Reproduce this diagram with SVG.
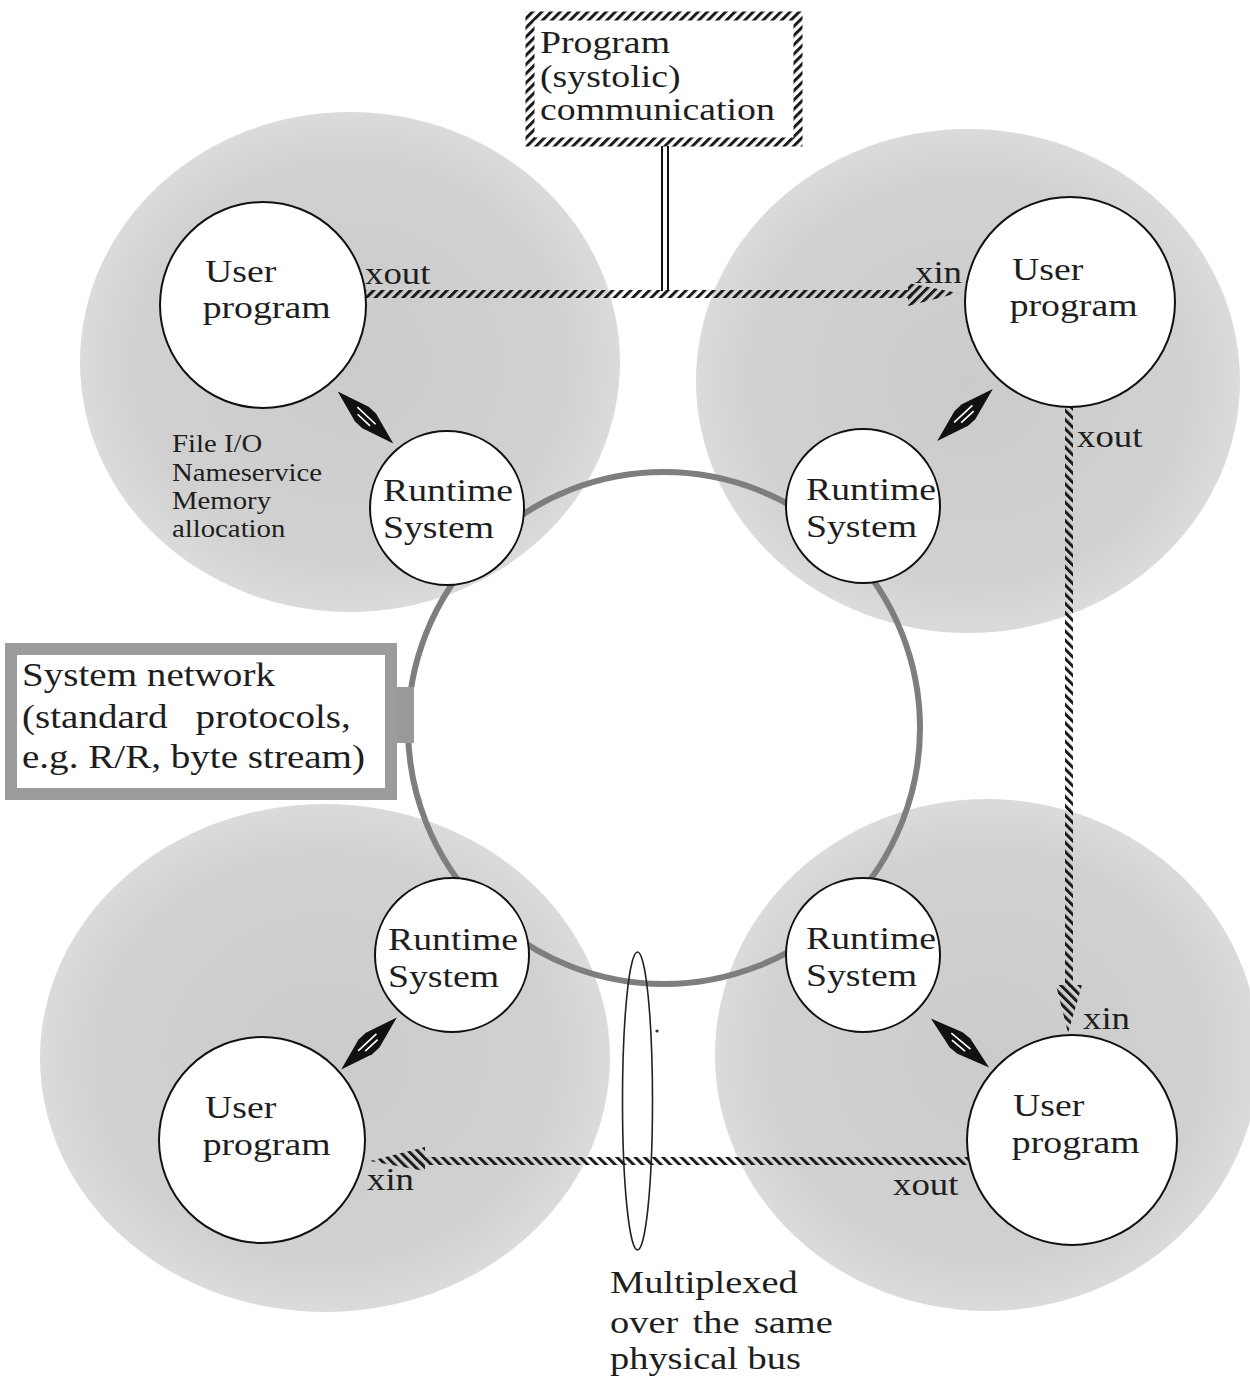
<svg xmlns="http://www.w3.org/2000/svg" xmlns:xlink="http://www.w3.org/1999/xlink" width="1250" height="1382" viewBox="0 0 1250 1382">
<style>
.t{font-family:"Liberation Serif","Times New Roman",serif;font-size:32px;fill:#1e1e1e}
.s{font-family:"Liberation Serif","Times New Roman",serif;font-size:25px;fill:#1e1e1e}
.blob{fill:url(#blobG)}
.node{fill:#fff;stroke:#111;stroke-width:2}
</style>
<defs>
<radialGradient id="blobG" cx="0.5" cy="0.5" r="0.5">
<stop offset="0" stop-color="#cbcbcb"/>
<stop offset="0.8" stop-color="#d1d1d1"/>
<stop offset="1" stop-color="#dbdbdb"/>
</radialGradient>
<pattern id="hatchA" width="6.5" height="6.5" patternUnits="userSpaceOnUse" patternTransform="rotate(45)">
<rect width="3" height="6.5" fill="#1a1a1a"/>
</pattern>
<pattern id="hatchB" width="6.5" height="6.5" patternUnits="userSpaceOnUse" patternTransform="rotate(-45)">
<rect width="3" height="6.5" fill="#1a1a1a"/>
</pattern>
<g id="dbl">
<path d="M-38,0 L-5,-10 L5,-10 L38,0 L5,10 L-5,10 Z" fill="#111"/>
<path d="M-13,-2 L12,-2 M-8,3 L9,3" stroke="#fff" stroke-width="1.6" fill="none"/>
</g>
</defs>
<rect width="1250" height="1382" fill="#fff"/>

<g id="blobs">
<ellipse class="blob" cx="350" cy="362" rx="270" ry="250"/>
<ellipse class="blob" cx="968" cy="381" rx="272" ry="252"/>
<ellipse class="blob" cx="325" cy="1058" rx="285" ry="254"/>
<ellipse class="blob" cx="987" cy="1055" rx="272" ry="256"/>
</g>

<g id="connectors">
<!-- system ring -->
<circle cx="664" cy="728" r="256" fill="none" stroke="#7e7e7e" stroke-width="6"/>
<!-- system network box link -->
<rect x="396" y="687" width="18" height="56" fill="#999"/>
<!-- top box link: double line -->
<line x1="662" y1="146" x2="662" y2="291" stroke="#111" stroke-width="2"/>
<line x1="668" y1="146" x2="668" y2="291" stroke="#111" stroke-width="2"/>
<!-- top xout -> xin -->
<rect x="364" y="290" width="548" height="8" fill="url(#hatchA)"/>
<polygon points="908,283 958,293 908,306" fill="url(#hatchA)"/>
<!-- right xout -> xin -->
<rect x="1065" y="407" width="8" height="580" fill="url(#hatchB)"/>
<polygon points="1056,985 1082,985 1068,1033" fill="url(#hatchB)"/>
<!-- bottom xout -> xin -->
<rect x="420" y="1157" width="549" height="8" fill="url(#hatchB)"/>
<polygon points="370,1161 425,1147 425,1171" fill="url(#hatchB)"/>
<!-- user <-> runtime -->
<use xlink:href="#dbl" transform="translate(365.5,417.5) rotate(43)"/>
<use xlink:href="#dbl" transform="translate(965,415) rotate(-43)"/>
<use xlink:href="#dbl" transform="translate(369,1043.5) rotate(-43)"/>
<use xlink:href="#dbl" transform="translate(960,1043) rotate(40)"/>
<!-- multiplex ellipse -->
<ellipse cx="637.5" cy="1101" rx="15" ry="149" fill="none" stroke="#222" stroke-width="1.6"/>
<circle cx="657" cy="1031" r="1.6" fill="#333"/>
</g>

<g id="label-program-comm">
<rect x="530" y="16" width="268" height="126" fill="#fff" stroke="url(#hatchA)" stroke-width="9"/>
<text class="t" transform="translate(540 53) scale(1.18 1)"><tspan x="0" y="0">Program</tspan><tspan x="0" y="34">(systolic)</tspan><tspan x="0" y="67">communication</tspan></text>
</g>

<g id="label-system-network">
<rect x="11" y="649" width="380" height="145" fill="#fff" stroke="#9c9c9c" stroke-width="12"/>
<text class="t" style="font-size:34px" transform="translate(22 686) scale(1.15 1)"><tspan x="0" y="0">System network</tspan><tspan x="0" y="42" word-spacing="16">(standard protocols,</tspan><tspan x="0" y="82">e.g. R/R, byte stream)</tspan></text>
</g>

<g id="user-tl">
<circle class="node" cx="263" cy="305" r="103"/>
<text class="t" transform="translate(205 282) scale(1.18 1)"><tspan x="0" y="0">User</tspan><tspan x="-2" y="36">program</tspan></text>
</g>
<g id="user-tr">
<circle class="node" cx="1070" cy="302" r="105"/>
<text class="t" transform="translate(1012 280) scale(1.18 1)"><tspan x="0" y="0">User</tspan><tspan x="-2" y="36">program</tspan></text>
</g>
<g id="user-bl">
<circle class="node" cx="262" cy="1140" r="103"/>
<text class="t" transform="translate(205 1118) scale(1.18 1)"><tspan x="0" y="0">User</tspan><tspan x="-2" y="37">program</tspan></text>
</g>
<g id="user-br">
<circle class="node" cx="1072" cy="1140" r="105"/>
<text class="t" transform="translate(1013 1116) scale(1.18 1)"><tspan x="0" y="0">User</tspan><tspan x="-1" y="37">program</tspan></text>
</g>

<g id="rt-tl">
<circle class="node" cx="447" cy="508" r="77"/>
<text class="t" transform="translate(383 501) scale(1.18 1)"><tspan x="0" y="0">Runtime</tspan><tspan x="0" y="37">System</tspan></text>
</g>
<g id="rt-tr">
<circle class="node" cx="863" cy="506" r="77"/>
<text class="t" transform="translate(806 500) scale(1.18 1)"><tspan x="0" y="0">Runtime</tspan><tspan x="0" y="37">System</tspan></text>
</g>
<g id="rt-bl">
<circle class="node" cx="452" cy="955" r="77"/>
<text class="t" transform="translate(388 950) scale(1.18 1)"><tspan x="0" y="0">Runtime</tspan><tspan x="0" y="37">System</tspan></text>
</g>
<g id="rt-br">
<circle class="node" cx="863" cy="955" r="77"/>
<text class="t" transform="translate(806 949) scale(1.18 1)"><tspan x="0" y="0">Runtime</tspan><tspan x="0" y="37">System</tspan></text>
</g>

<g id="labels">
<text class="s" transform="translate(172 452) scale(1.15 1)"><tspan x="0" y="0">File I/O</tspan><tspan x="0" y="29">Nameservice</tspan><tspan x="0" y="57">Memory</tspan><tspan x="0" y="85">allocation</tspan></text>
<text class="t" transform="translate(365 284) scale(1.15 1)">xout</text>
<text class="t" transform="translate(915 283) scale(1.15 1)">xin</text>
<text class="t" transform="translate(1077 447) scale(1.15 1)">xout</text>
<text class="t" transform="translate(1083 1029) scale(1.15 1)">xin</text>
<text class="t" transform="translate(367 1190) scale(1.15 1)">xin</text>
<text class="t" transform="translate(893 1195) scale(1.15 1)">xout</text>
<text class="t" transform="translate(610 1293) scale(1.2 1)"><tspan x="0" y="0">Multiplexed</tspan><tspan x="0" y="40" word-spacing="4">over the same</tspan><tspan x="0" y="76">physical bus</tspan></text>
</g>
</svg>
